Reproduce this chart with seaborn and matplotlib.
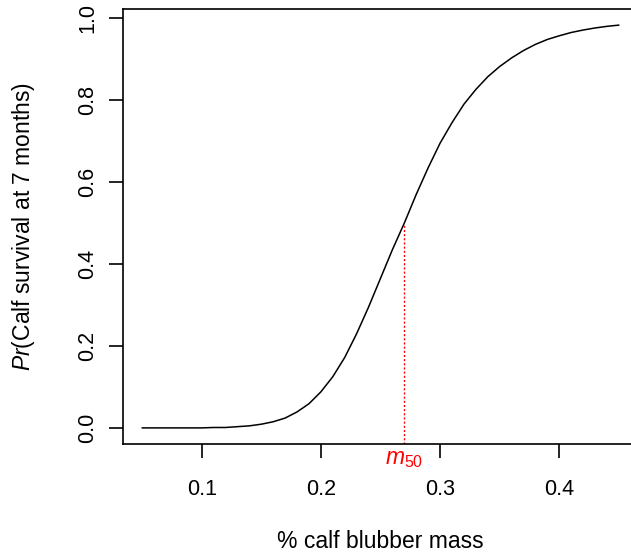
import numpy as np
import pandas as pd
import matplotlib
matplotlib.use("Agg")
import matplotlib.pyplot as plt
import matplotlib.transforms as mtransforms
import seaborn as sns

# Data
blubber_mass = [0.05, 0.06, 0.07, 0.08, 0.09, 0.10, 0.11, 0.12, 0.13, 0.14,
                0.15, 0.16, 0.17, 0.18, 0.19, 0.20, 0.21, 0.22, 0.23, 0.24,
                0.25, 0.26, 0.27, 0.28, 0.29, 0.30, 0.31, 0.32, 0.33, 0.34,
                0.35, 0.36, 0.37, 0.38, 0.39, 0.40, 0.41, 0.42, 0.43, 0.44, 0.45]
survival_prob = [0.000, 0.000, 0.000, 0.000, 0.000, 0.000, 0.001, 0.001, 0.003, 0.005,
                 0.009, 0.015, 0.024, 0.039, 0.059, 0.088, 0.125, 0.172, 0.230, 0.295,
                 0.365, 0.435, 0.500, 0.570, 0.635, 0.695, 0.745, 0.790, 0.826, 0.857,
                 0.882, 0.903, 0.921, 0.936, 0.948, 0.957, 0.965, 0.971, 0.976, 0.980, 0.983]
m50 = 0.27
m50_prob = 0.5
x_ticks = [0.1, 0.2, 0.3, 0.4]
y_ticks = [0.0, 0.2, 0.4, 0.6, 0.8, 1.0]
x_label = "% calf blubber mass"

df = pd.DataFrame({"mass": blubber_mass, "prob": survival_prob})

sns.set_theme(style="white")
plt.rcParams["font.family"] = ["Liberation Sans", "DejaVu Sans"]
plt.rcParams["mathtext.fontset"] = "custom"
plt.rcParams["mathtext.rm"] = "Liberation Sans"
plt.rcParams["mathtext.it"] = "Liberation Sans:italic"

W, H = 631, 554
fig = plt.figure(figsize=(W / 100, H / 100), dpi=100)
fig.patch.set_facecolor("white")
# axes box: left 123px, right 638px (beyond image), top 9px, bottom 444px
ax = fig.add_axes([123 / W, (H - 444) / H, (638 - 123) / W, (444 - 9) / H])

sns.lineplot(data=df, x="mass", y="prob", ax=ax, color="black", linewidth=1.1,
             estimator=None, sort=False)

ax.set_xlim(0.034, 0.466)
ax.set_ylim(-0.0393, 1.0223)

ax.vlines(m50, -0.0393, m50_prob, colors="red", linestyles=(0, (1.5, 1.5)), linewidth=1.0)

for s in ax.spines.values():
    s.set_visible(True)
    s.set_color("black")
    s.set_linewidth(1.2)

ax.set_xticks(x_ticks)
ax.set_xticklabels([f"{v:.1f}" for v in x_ticks])
ax.set_yticks(y_ticks)
ax.set_yticklabels([f"{v:.1f}" for v in y_ticks], rotation=90, va="center")
ax.tick_params(axis="both", which="major", direction="out", length=10, width=1.2,
               color="black", labelsize=15.5, labelcolor="black",
               bottom=True, left=True)
ax.tick_params(axis="x", pad=15)
ax.tick_params(axis="y", pad=8)

ax.set_xlabel(x_label, fontsize=16.5, color="black", labelpad=22)
ax.set_ylabel(r"$\mathit{Pr}$(Calf survival at 7 months)", fontsize=16.5, color="black",
              labelpad=29)

trans = mtransforms.blended_transform_factory(ax.transData, ax.transAxes)
ax.text(m50, -15 / 435, r"$m_{50}$", transform=trans, color="red", fontsize=16.5,
        ha="center", va="center")

ax.grid(False)
fig.savefig("out.png", dpi=100, facecolor="white")
